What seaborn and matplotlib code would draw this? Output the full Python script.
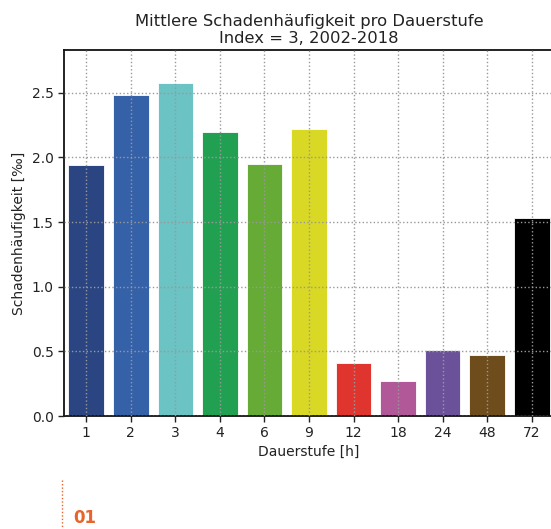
import matplotlib
matplotlib.use("Agg")
import matplotlib.pyplot as plt
import seaborn as sns
import pandas as pd
from matplotlib.lines import Line2D

categories = ["1", "2", "3", "4", "6", "9", "12", "18", "24", "48", "72"]
values = [1.938, 2.486, 2.574, 2.196, 1.948, 2.222, 0.413, 0.274, 0.512, 0.475, 1.535]
colors = ["#2b4582", "#3561a8", "#6cc3c4", "#22a052", "#66ab35", "#d9d825",
          "#e0352f", "#b05898", "#6b5199", "#6e4c1c", "#000000"]

title = "Mittlere Schadenhäufigkeit pro Dauerstufe\nIndex = 3, 2002-2018"
xlabel = "Dauerstufe [h]"
ylabel = "Schadenhäufigkeit [‰]"

sns.set_style("white")
plt.rcParams["font.family"] = ["DejaVu Sans"]

df = pd.DataFrame({"Dauerstufe": categories, "Wert": values})

fig = plt.figure(figsize=(5.51, 5.29), dpi=100)
ax = fig.add_axes([64 / 551, 1 - 416 / 529, (554 - 64) / 551, (416 - 50) / 529])

sns.barplot(data=df, x="Dauerstufe", y="Wert", hue="Dauerstufe",
            order=categories, hue_order=categories, palette=colors,
            legend=False, width=0.8, saturation=1, ax=ax,
            edgecolor="white", linewidth=0.6)

ax.set_xlim(-0.5, len(categories) - 0.5)
ax.set_ylim(0, max(values) * 1.1)
ax.set_yticks([0.0, 0.5, 1.0, 1.5, 2.0, 2.5])
ax.set_yticklabels(["0.0", "0.5", "1.0", "1.5", "2.0", "2.5"])
ax.grid(True, linestyle=":", color="#999999", linewidth=1.0)
ax.set_axisbelow(False)

for s in ["left", "bottom", "top"]:
    ax.spines[s].set_visible(True)
    ax.spines[s].set_color("#111111")
    ax.spines[s].set_linewidth(1.3)
ax.spines["right"].set_visible(False)

ax.tick_params(axis="both", which="both", direction="out", length=4, width=1,
               colors="#222222", labelsize=10, bottom=True, left=True)
ax.set_xlabel(xlabel, fontsize=10, color="#222222", labelpad=3)
ax.set_ylabel(ylabel, fontsize=10, color="#222222", labelpad=4)
ax.set_title(title, fontsize=11.8, color="#222222", pad=5, linespacing=1.15)

# page decoration
fig.add_artist(Line2D([62 / 551, 62 / 551], [1 - 480 / 529, 0], transform=fig.transFigure,
                      color="#e8642a", linestyle=(0, (1, 1.5)), linewidth=1))
fig.text(73 / 551, 1 - 518 / 529, "01", color="#e8642a", fontsize=12,
         fontweight="bold", va="center", ha="left")

fig.savefig("out.png", dpi=100)
